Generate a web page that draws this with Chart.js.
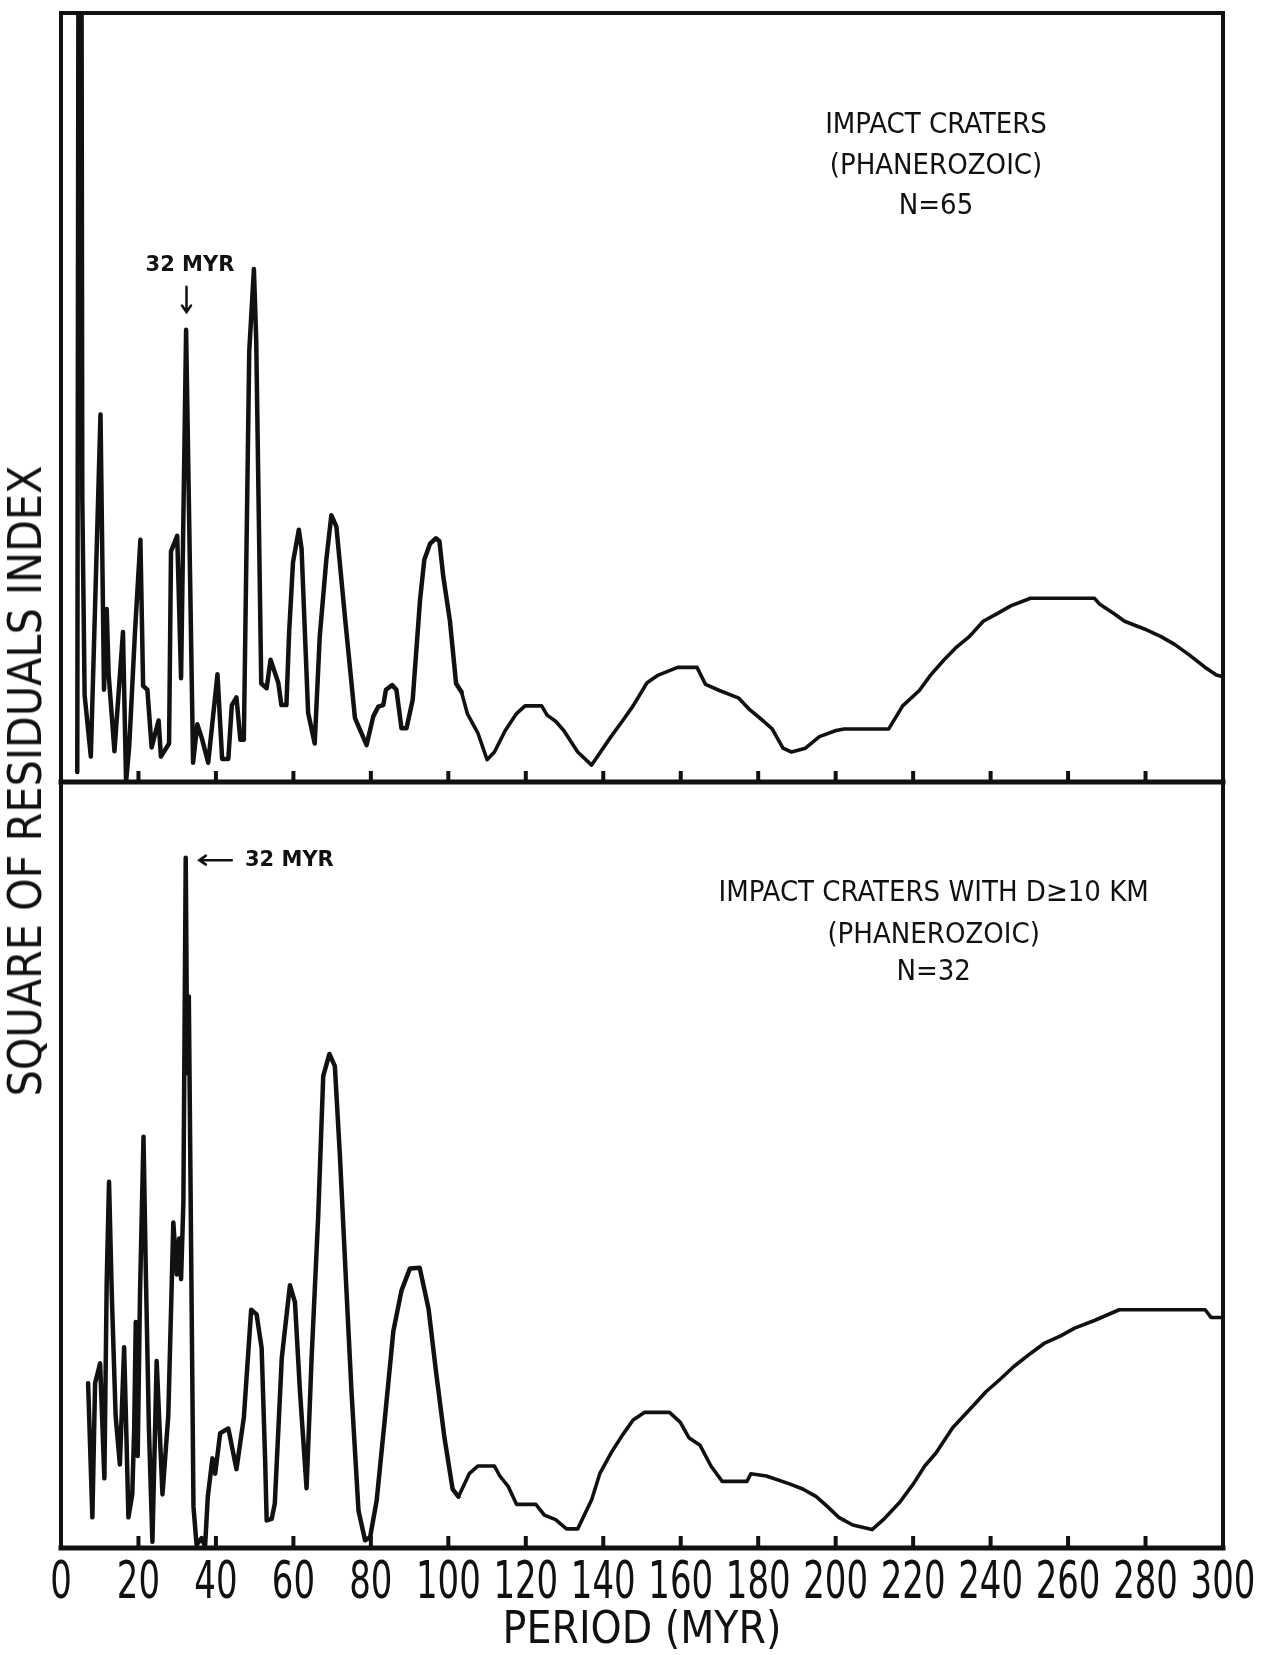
<!DOCTYPE html>
<html>
<head>
<meta charset="utf-8">
<script src="https://cdn.jsdelivr.net/npm/chart.js@4.4.1/dist/chart.umd.min.js"></script>
<style>
  html, body { margin: 0; padding: 0; background: #fff; }
  body { width: 1267px; height: 1655px; position: relative; overflow: hidden; }
  #topChart { position: absolute; left: 0; top: 0; }
  #botChart { position: absolute; left: 0; top: 770px; }
  #yTitle {
    position: absolute; left: 25px; top: 781px;
    transform: translate(-50%, -50%) rotate(-90deg);
    white-space: nowrap; color: #111;
    font-family: "DejaVu Sans Condensed", sans-serif;
    font-size: 46px;
  }
</style>
</head>
<body>
<canvas id="topChart" width="1267" height="790"></canvas>
<canvas id="botChart" width="1267" height="885"></canvas>
<div id="yTitle">SQUARE OF RESIDUALS INDEX</div>
<script>
// periods (Myr) and relative index, top panel: all craters (N=65)
const topPeriod = [4.2, 4.6, 5.2, 5.5, 6.1, 7.7, 10.2, 11.1, 11.8, 12.3, 13.8, 16.0, 16.8, 17.6, 19.1, 20.5, 21.2, 22.3, 23.4, 25.2,
  25.8, 27.9, 28.4, 30.0, 31.0, 32.3, 32.8, 34.1, 35.2, 36.3, 38.0, 40.4, 41.6, 43.2, 44.1, 45.3, 46.3, 47.2, 48.6, 49.8,
  50.4, 51.7, 53.1, 54.1, 56.1, 56.9, 58.2, 58.9, 59.9, 61.4, 62.1, 63.8, 65.5, 66.8, 68.5, 69.8, 71.1, 73.3, 75.9, 78.9,
  80.6, 81.9, 83.2, 83.9, 85.5, 86.6, 87.9, 89.2, 90.8, 92.7, 93.8, 95.3, 96.8, 97.7, 98.7, 100.4, 102.0, 103.4, 104.9, 107.6,
  110.0, 111.9, 114.7, 117.6, 119.8, 124.1, 125.5, 127.7, 129.8, 133.4, 137.0, 142.0, 144.9, 147.7, 151.3, 154.2, 159.2, 164.2, 166.4, 170.0,
  175.0, 177.8, 181.4, 183.6, 186.4, 188.6, 192.2, 195.8, 200.1, 202.2, 213.7, 217.3, 221.6, 224.5, 228.0, 230.9, 234.5, 238.1, 241.7, 245.2,
  250.3, 266.8, 268.2, 271.8, 274.6, 279.7, 284.0, 287.5, 291.1, 295.4, 298.3, 300];
const topPower = [1.3, 140, 140, 37, 11.3, 3.3, 47.8, 12.0, 22.5, 14.0, 4.0, 19.5, 0, 4.5, 19.5, 31.5, 12.5, 12.0, 4.5, 8.0,
  3.3, 5.0, 30.0, 32.0, 13.5, 58.8, 43.0, 2.5, 7.5, 5.8, 2.5, 14.0, 3.0, 3.0, 10.0, 11.0, 5.5, 5.5, 56.0, 66.7,
  57.5, 12.8, 12.2, 15.9, 12.9, 10.0, 10.0, 19.5, 28.6, 32.8, 30.4, 9.0, 5.0, 18.9, 28.9, 34.7, 33.2, 21.5, 8.3, 4.8,
  8.5, 9.8, 10.0, 12.0, 12.6, 12.0, 7.0, 7.0, 10.7, 23.7, 28.9, 31.0, 31.7, 31.3, 26.7, 21.0, 12.8, 11.7, 8.9, 6.4,
  2.9, 3.9, 6.7, 8.9, 9.9, 9.9, 8.7, 7.9, 6.7, 3.9, 2.2, 5.9, 7.9, 9.9, 12.9, 13.9, 14.9, 14.9, 12.7, 11.9,
  10.9, 9.4, 7.9, 6.9, 4.4, 3.9, 4.4, 5.9, 6.7, 6.9, 6.9, 9.9, 11.9, 13.9, 15.9, 17.4, 18.9, 20.9, 21.9, 22.9,
  23.9, 23.9, 23.1, 21.9, 20.9, 19.9, 18.9, 17.9, 16.6, 14.9, 13.9, 13.7];

// bottom panel: craters with D >= 10 km (N=32)
const bottomPeriod = [7.0, 8.1, 8.8, 10.1, 11.2, 11.8, 12.4, 13.1, 14.1, 15.2, 16.3, 16.9, 17.4, 18.4, 18.9, 19.3, 19.8, 20.4, 21.3, 21.9,
  22.7, 23.6, 24.7, 26.2, 27.7, 29.0, 29.9, 30.5, 31.0, 31.6, 32.2, 32.6, 33.0, 34.2, 35.0, 36.3, 37.2, 37.9, 39.1, 39.8,
  41.1, 43.2, 45.3, 47.2, 49.1, 50.5, 51.8, 52.7, 53.1, 54.4, 55.2, 57.0, 59.1, 60.4, 61.7, 63.4, 64.7, 66.4, 67.7, 69.3,
  70.7, 72.0, 73.7, 75.0, 76.8, 78.5, 79.8, 81.5, 83.6, 85.8, 87.9, 90.1, 92.6, 94.9, 96.8, 99.0, 101.1, 102.6, 105.4, 107.6,
  111.9, 113.3, 115.5, 117.6, 122.6, 124.8, 127.7, 130.5, 133.4, 137.0, 139.1, 142.0, 144.9, 147.7, 150.6, 157.1, 159.9, 162.1, 165.0, 167.8,
  170.7, 177.1, 178.1, 182.1, 187.9, 191.5, 195.0, 197.9, 200.8, 204.4, 209.4, 212.3, 216.6, 220.1, 223.0, 225.9, 230.2, 235.2, 238.8, 242.4,
  246.0, 250.3, 253.8, 258.1, 261.7, 266.8, 273.2, 295.4, 296.9, 300];
const bottomPower = [21.5, 4.0, 21.5, 24.1, 9.1, 34.8, 47.8, 33.3, 17.3, 10.9, 26.2, 14.4, 4.0, 7.0, 15.6, 29.5, 12.0, 33.3, 53.7, 36.0,
  15.6, 0.8, 24.4, 7.0, 17.3, 42.5, 35.7, 40.4, 35.1, 45.2, 90.1, 62.0, 72.0, 5.4, 0.4, 1.3, 0.2, 6.7, 11.7, 9.7,
  15.0, 15.6, 10.3, 17.0, 31.1, 30.5, 26.1, 11.5, 3.6, 3.8, 5.8, 24.8, 34.3, 32.1, 20.4, 7.8, 24.8, 43.3, 61.6, 64.5,
  62.9, 51.3, 33.6, 20.4, 4.9, 1.0, 1.4, 6.2, 16.8, 28.3, 33.6, 36.5, 36.6, 31.2, 23.1, 14.4, 7.7, 6.7, 9.7, 10.7,
  10.7, 9.4, 8.0, 5.7, 5.7, 4.3, 3.7, 2.5, 2.5, 6.3, 9.7, 12.4, 14.7, 16.7, 17.7, 17.7, 16.4, 14.4, 13.4, 10.7,
  8.7, 8.7, 9.7, 9.4, 8.4, 7.7, 6.7, 5.4, 4.0, 3.0, 2.4, 3.7, 6.0, 8.4, 10.7, 12.4, 15.7, 18.4, 20.4, 22.0,
  23.7, 25.4, 26.7, 27.7, 28.7, 29.7, 31.1, 31.1, 30.1, 30.1];

const periodTicks = [0, 20, 40, 60, 80, 100, 120, 140, 160, 180, 200, 220, 240, 260, 280, 300];

const ink = '#111';
const narrow = '"DejaVu Sans Condensed", sans-serif';

function toPoints(xs, ys) {
  return xs.map((x, i) => ({ x: x, y: ys[i] }));
}

// box around each panel plus the short inward ticks on its lower edge
const framePlugin = {
  id: 'frame',
  afterDatasetsDraw(chart, args, opts) {
    const { ctx, chartArea: a, scales: { x } } = chart;
    ctx.save();
    ctx.strokeStyle = ink;
    ctx.lineCap = 'square';
    ctx.lineWidth = 4;
    ctx.beginPath();
    ctx.moveTo(a.left, a.top);
    ctx.lineTo(a.right, a.top);
    ctx.moveTo(a.left, a.top);
    ctx.lineTo(a.left, a.bottom);
    ctx.moveTo(a.right, a.top);
    ctx.lineTo(a.right, a.bottom);
    ctx.stroke();
    ctx.lineWidth = 5;
    ctx.beginPath();
    ctx.moveTo(a.left, a.bottom);
    ctx.lineTo(a.right, a.bottom);
    ctx.stroke();
    ctx.lineWidth = 4;
    ctx.lineCap = 'butt';
    ctx.beginPath();
    periodTicks.slice(1, -1).forEach(v => {
      const px = x.getPixelForValue(v);
      ctx.moveTo(px, a.bottom);
      ctx.lineTo(px, a.bottom - opts.tickLen);
    });
    ctx.stroke();

    // period labels: the lettering of the original is narrow, so squeeze it
    if (opts.labels) {
      ctx.fillStyle = ink;
      ctx.textAlign = 'center';
      ctx.textBaseline = 'middle';
      ctx.font = '51px ' + narrow;
      periodTicks.forEach(v => {
        ctx.save();
        ctx.translate(x.getPixelForValue(v), a.bottom + 37);
        ctx.scale(0.74, 1);
        ctx.fillText(String(v), 0, 0);
        ctx.restore();
      });
    }
    ctx.restore();
  }
};

// panel captions and the 32 Myr arrows
const notesPlugin = {
  id: 'notes',
  afterDatasetsDraw(chart, args, opts) {
    const { ctx, scales: { x, y } } = chart;
    ctx.save();
    ctx.fillStyle = ink;
    ctx.strokeStyle = ink;
    ctx.textAlign = 'center';
    ctx.textBaseline = 'middle';
    ctx.font = '29px ' + narrow;
    opts.caption.forEach(c => {
      ctx.fillText(c.text, x.getPixelForValue(c.x), y.getPixelForValue(c.y));
    });
    ctx.font = 'bold 21px "DejaVu Sans", sans-serif';
    const m = opts.marker;
    ctx.textAlign = m.align;
    ctx.fillText('32 MYR', x.getPixelForValue(m.tx), y.getPixelForValue(m.ty));
    const x0 = x.getPixelForValue(m.ax0), y0 = y.getPixelForValue(m.ay0);
    const x1 = x.getPixelForValue(m.ax1), y1 = y.getPixelForValue(m.ay1);
    const ang = Math.atan2(y1 - y0, x1 - x0);
    ctx.lineWidth = 2.5;
    ctx.lineCap = 'round';
    ctx.beginPath();
    ctx.moveTo(x0, y0);
    ctx.lineTo(x1, y1);
    ctx.moveTo(x1 - 8 * Math.cos(ang - 0.6), y1 - 8 * Math.sin(ang - 0.6));
    ctx.lineTo(x1, y1);
    ctx.lineTo(x1 - 8 * Math.cos(ang + 0.6), y1 - 8 * Math.sin(ang + 0.6));
    ctx.stroke();
    ctx.restore();
  }
};

function baseOptions(showAxis) {
  return {
    responsive: false,
    animation: false,
    devicePixelRatio: 1,
    events: [],
    scales: {
      x: {
        type: 'linear',
        min: 0,
        max: 300,
        display: showAxis,
        afterBuildTicks: s => { s.ticks = periodTicks.map(v => ({ value: v })); },
        afterFit: s => { if (showAxis) s.height = 107; },
        grid: { display: false, drawTicks: false },
        border: { display: false },
        ticks: { display: false },
        title: {
          display: showAxis,
          text: 'PERIOD (MYR)',
          color: ink,
          font: { family: narrow, size: 44 },
          padding: { top: 0, bottom: -3 }
        }
      },
      y: { type: 'linear', min: 0, max: 100, display: false }
    },
    plugins: {
      legend: { display: false },
      tooltip: { enabled: false }
    }
  };
}

function lineDataset(xs, ys) {
  return {
    data: toPoints(xs, ys),
    borderColor: ink,
    borderWidth: 4.5,
    pointRadius: 0,
    tension: 0,
    borderJoinStyle: 'round',
    borderCapStyle: 'round',
    clip: 0,
    // the pen line is a little finer on the long-period side
    segment: { borderWidth: c => (c.p0.parsed.x > 102 ? 3.6 : 4.5) }
  };
}

const topOpts = baseOptions(false);
topOpts.layout = { padding: { left: 61, right: 44, top: 13, bottom: 8 } };
topOpts.plugins.frame = { tickLen: 11, labels: false };
topOpts.plugins.notes = {
  caption: [
    { text: 'IMPACT CRATERS', x: 225.9, y: 85.4 },
    { text: '(PHANEROZOIC)', x: 225.9, y: 80.1 },
    { text: 'N=65', x: 225.9, y: 74.9 }
  ],
  marker: { align: 'center', tx: 33.3, ty: 67.1, ax0: 32.4, ay0: 64.4, ax1: 32.4, ay1: 61.1 }
};

new Chart(document.getElementById('topChart'), {
  type: 'line',
  data: { datasets: [lineDataset(topPeriod, topPower)] },
  options: topOpts,
  plugins: [framePlugin, notesPlugin]
});

const botOpts = baseOptions(true);
botOpts.layout = { padding: { left: 61, right: 44, top: 12, bottom: 0 } };
botOpts.plugins.frame = { tickLen: 12, labels: true };
botOpts.plugins.notes = {
  caption: [
    { text: 'IMPACT CRATERS WITH D\u226510 KM', x: 225.3, y: 85.4 },
    { text: '(PHANEROZOIC)', x: 225.3, y: 80.0 },
    { text: 'N=32', x: 225.3, y: 75.1 }
  ],
  marker: { align: 'left', tx: 47.5, ty: 89.8, ax0: 44.1, ay0: 89.8, ax1: 35.7, ay1: 89.8 }
};

new Chart(document.getElementById('botChart'), {
  type: 'line',
  data: { datasets: [lineDataset(bottomPeriod, bottomPower)] },
  options: botOpts,
  plugins: [framePlugin, notesPlugin]
});
</script>
</body>
</html>
